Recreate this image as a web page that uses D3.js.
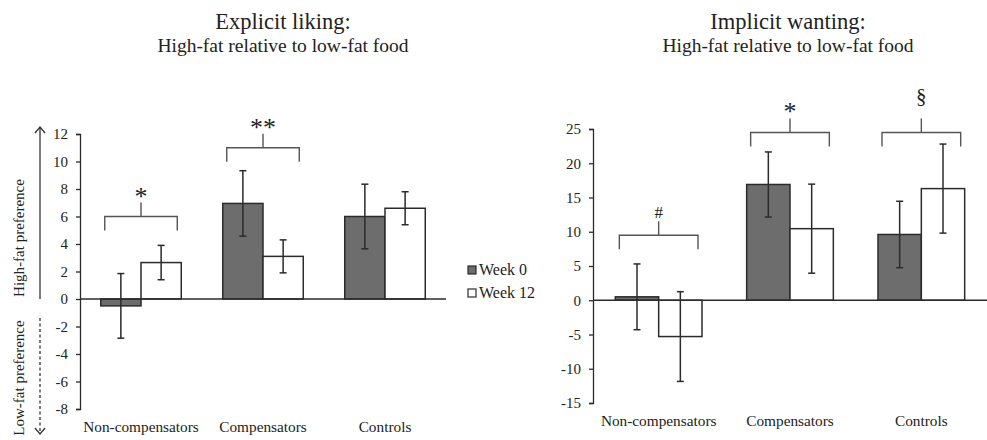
<!DOCTYPE html>
<html>
<head>
<meta charset="utf-8">
<script src="https://cdnjs.cloudflare.com/ajax/libs/d3/7.8.5/d3.min.js"></script>
<style>
  body { margin: 0; background: #fff; }
  svg { display: block; }
  svg text { font-family: "Liberation Serif", "Times New Roman", serif; }
</style>
</head>
<body>
<svg id="chart" width="987" height="440"></svg>
<script>
// ---- data ----
var groups = ["Non-compensators", "Compensators", "Controls"]
var seriesNames = ["Week 0", "Week 12"]

var likingWeek0 = [-0.5, 6.95, 6.0]
var likingWeek0Err = [2.35, 2.38, 2.35]
var likingWeek12 = [2.65, 3.1, 6.6]
var likingWeek12Err = [1.25, 1.2, 1.2]
var likingTicks = [-8, -6, -4, -2, 0, 2, 4, 6, 8, 10, 12]
var likingSig = [
  { group: "Non-compensators", level: 6, label: "*" },
  { group: "Compensators", level: 11, label: "**" }
]

var wantingWeek0 = [0.5, 16.9, 9.6]
var wantingWeek0Err = [4.8, 4.75, 4.85]
var wantingWeek12 = [-5.3, 10.45, 16.3]
var wantingWeek12Err = [6.55, 6.5, 6.5]
var wantingTicks = [-15, -10, -5, 0, 5, 10, 15, 20, 25]
var wantingSig = [
  { group: "Non-compensators", level: 9.5, label: "#" },
  { group: "Compensators", level: 24.5, label: "*" },
  { group: "Controls", level: 24.5, label: "\u00a7" }
]

var fills = ["#6d6d6d", "#ffffff"]
var ink = "#2b2b2b"

var svg = d3.select("#chart")

//===================== one panel ====================
function panel(opt) {
  var g = svg.append("g")

  var x0 = d3.scaleBand().domain(groups).range([opt.left, opt.right]).paddingInner(0.34).paddingOuter(0.17)
  var x1 = d3.scaleBand().domain(seriesNames).range([0, x0.bandwidth()])
  var y = d3.scaleLinear().domain(opt.domain).range([opt.bottom, opt.top])

  var rows = []
  groups.forEach(function(grp, i) {
    rows.push({ group: grp, series: "Week 0", v: opt.w0[i], e: opt.w0e[i], k: 0 })
    rows.push({ group: grp, series: "Week 12", v: opt.w12[i], e: opt.w12e[i], k: 1 })
  })

  // titles
  g.append("text").attr("x", opt.titleX).attr("y", 29).attr("text-anchor", "middle")
    .attr("font-size", 22.5).attr("fill", "#222").text(opt.title)
  g.append("text").attr("x", opt.titleX).attr("y", 52).attr("text-anchor", "middle")
    .attr("font-size", 19.5).attr("fill", "#222").text("High-fat relative to low-fat food")

  // bars
  g.selectAll(".bar").data(rows).enter().append("rect")
    .attr("x", d => x0(d.group) + x1(d.series))
    .attr("width", x1.bandwidth())
    .attr("y", d => y(Math.max(0, d.v)))
    .attr("height", d => Math.abs(y(d.v) - y(0)))
    .attr("fill", d => fills[d.k])
    .attr("stroke", ink).attr("stroke-width", 1.5)

  // zero line
  g.append("line").attr("x1", opt.left).attr("x2", opt.right)
    .attr("y1", y(0)).attr("y2", y(0)).attr("stroke", ink).attr("stroke-width", 1.3)

  // error bars
  var eb = g.selectAll(".err").data(rows).enter().append("g")
    .attr("stroke", ink).attr("stroke-width", 1.5)
  var cx = d => x0(d.group) + x1(d.series) + x1.bandwidth() / 2
  eb.append("line").attr("x1", cx).attr("x2", cx)
    .attr("y1", d => y(d.v + d.e)).attr("y2", d => y(d.v - d.e))
  eb.append("line").attr("x1", d => cx(d) - 3.5).attr("x2", d => cx(d) + 3.5)
    .attr("y1", d => y(d.v + d.e)).attr("y2", d => y(d.v + d.e))
  eb.append("line").attr("x1", d => cx(d) - 3.5).attr("x2", d => cx(d) + 3.5)
    .attr("y1", d => y(d.v - d.e)).attr("y2", d => y(d.v - d.e))

  // y axis
  var ax = g.append("g").attr("transform", "translate(" + opt.left + ",0)")
    .call(d3.axisLeft(y).tickValues(opt.ticks).tickFormat(d => String(d))
      .tickSize(4).tickSizeOuter(4).tickPadding(8))
  ax.select(".domain").attr("stroke", ink).attr("stroke-width", 1.3)
  ax.selectAll(".tick line").attr("stroke", ink).attr("stroke-width", 1.3)
  ax.selectAll(".tick text").attr("font-size", 15).attr("fill", "#222")
    .attr("font-family", null)

  // category labels
  g.selectAll(".cat").data(groups).enter().append("text")
    .attr("x", d => x0(d) + x0.bandwidth() / 2)
    .attr("y", opt.catY).attr("text-anchor", "middle")
    .attr("font-size", 15.3).attr("fill", "#222").text(d => d)

  // significance brackets
  var sg = g.selectAll(".sig").data(opt.sig).enter().append("g")
  var bl = d => x0(d.group) + 4
  var br = d => x0(d.group) + x0.bandwidth() - 4
  var path = function(d) {
    var yy = y(d.level), m = (bl(d) + br(d)) / 2
    return "M" + bl(d) + "," + (yy + 14) + "V" + yy + "H" + br(d) + "V" + (yy + 14) +
      "M" + m + "," + yy + "V" + (yy - 14)
  }
  var lift = { "*": 2, "**": 2, "#": -3, "\u00a7": -15 }
  var size = { "*": 26, "**": 26, "#": 17, "\u00a7": 21 }
  sg.append("path").attr("d", path).attr("fill", "none").attr("stroke", "#555").attr("stroke-width", 1.4)
  sg.append("text")
    .attr("x", d => (bl(d) + br(d)) / 2)
    .attr("y", d => y(d.level) - 14 + lift[d.label])
    .attr("text-anchor", "middle")
    .attr("font-size", d => size[d.label])
    .attr("fill", "#222").text(d => d.label)

  return { x0: x0, y: y }
}

panel({
  title: "Explicit liking:", titleX: 283,
  left: 80, right: 446, top: 134, bottom: 409, domain: [-8, 12], ticks: likingTicks,
  w0: likingWeek0, w0e: likingWeek0Err, w12: likingWeek12, w12e: likingWeek12Err,
  sig: likingSig, catY: 432
})

panel({
  title: "Implicit wanting:", titleX: 788,
  left: 593, right: 987, top: 129, bottom: 403, domain: [-15, 25], ticks: wantingTicks,
  w0: wantingWeek0, w0e: wantingWeek0Err, w12: wantingWeek12, w12e: wantingWeek12Err,
  sig: wantingSig, catY: 426
})

// legend
var leg = svg.append("g").selectAll("g").data(seriesNames).enter().append("g")
  .attr("transform", (d, i) => "translate(468," + (270 + i * 23) + ")")
leg.append("rect").attr("x", 0).attr("y", -4).attr("width", 8).attr("height", 8)
  .attr("fill", (d, i) => fills[i]).attr("stroke", ink).attr("stroke-width", 1.2)
leg.append("text").attr("x", 11).attr("y", 5).attr("font-size", 16).attr("fill", "#222").text(d => d)

// preference arrows on the left
var arr = svg.append("g").attr("stroke", "#333").attr("stroke-width", 1.3).attr("fill", "none")
arr.append("line").attr("x1", 40).attr("x2", 40).attr("y1", 299).attr("y2", 127)
arr.append("path").attr("d", "M35,133L40,127L45,133")
arr.append("line").attr("x1", 40).attr("x2", 40).attr("y1", 318).attr("y2", 434)
  .attr("stroke-dasharray", "3,2.5")
arr.append("path").attr("d", "M35,428L40,434L45,428")

svg.append("text").attr("transform", "translate(24,238) rotate(-90)")
  .attr("text-anchor", "middle").attr("font-size", 15).attr("fill", "#222").text("High-fat preference")
svg.append("text").attr("transform", "translate(24,378) rotate(-90)")
  .attr("text-anchor", "middle").attr("font-size", 15).attr("fill", "#222").text("Low-fat preference")
</script>
</body>
</html>
